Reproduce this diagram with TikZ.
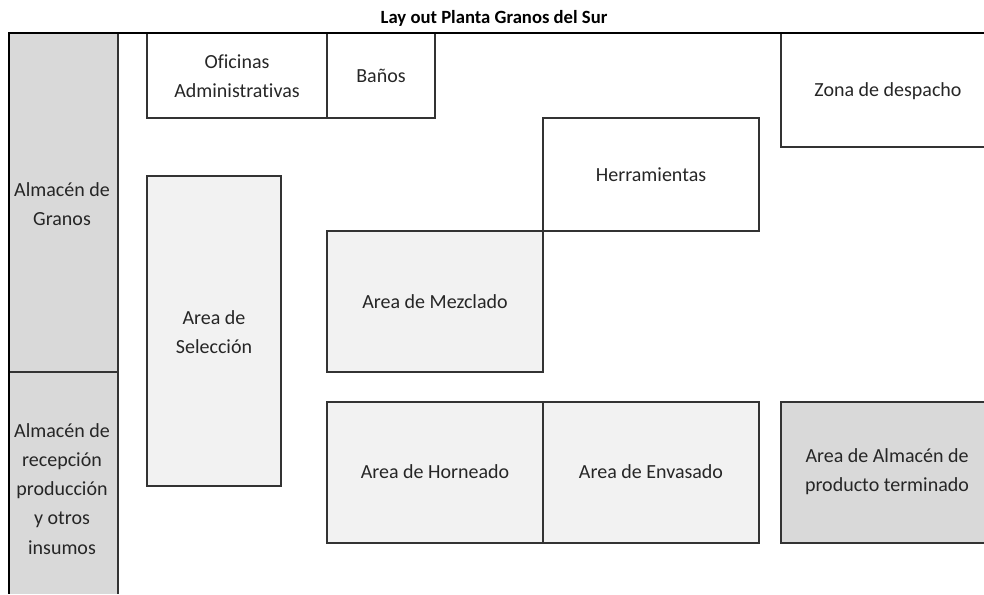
\documentclass[tikz,border=0pt]{standalone}
\usepackage{fontspec}
\setmainfont{Carlito}[Ligatures=NoCommon]
\usetikzlibrary{positioning}
\definecolor{grisal}{HTML}{D9D9D9}
\definecolor{grisar}{HTML}{F2F2F2}
\tikzset{
  zona/.style={draw=black!80, line width=0.8pt},
  muro/.style={draw=black, line width=1.6pt},
  rotulo/.style={align=center, text=black!85, font=\fontsize{15}{21.8}\selectfont}
}
\begin{document}
\begin{tikzpicture}[x=0.75pt, y=-0.75pt]
            \useasboundingbox (0,0) rectangle (984,594);

            \node[font=\bfseries\fontsize{14}{16}\selectfont] (titulo) at (494,18) {Lay out Planta Granos del Sur};

            % almacenes de la izquierda
            \fill[grisal] (9,33) rectangle (118,594);
            \draw[zona] (9,372) -- (118,372);
            \draw[zona] (118,33) -- (118,594);
            \node[rotulo] (granos) at (62,204) {Almac\'en de\\Granos};
            \node[rotulo] (recepcion) at (62,489) {Almac\'en de\\recepci\'on\\producci\'on\\y otros\\insumos};

            % oficinas
            \draw[zona] (147,33) rectangle (327,118);
            \node[rotulo] (oficinas) at (237,76) {Oficinas\\Administrativas};
            \draw[zona] (327,33) rectangle (435,118);
            \node[rotulo] (banos) at (381,76) {Ba\~nos};

            \draw[zona] (781,33) -- (781,147) -- (984,147);
            \node[rotulo] (despacho) at (888,91) {Zona de despacho};

            \draw[zona] (543,118) rectangle (759,231);
            \node[rotulo] (herramientas) at (651,175) {Herramientas};

            % areas de proceso
            \draw[zona, fill=grisar] (147,176) rectangle (281,486);
            \node[rotulo] (seleccion) at (214,332) {Area de\\Selecci\'on};

            \draw[zona, fill=grisar] (327,231) rectangle (543,372);
            \node[rotulo] (mezclado) at (435,302) {Area de Mezclado};

            \draw[zona, fill=grisar] (327,402) rectangle (543,543);
            \node[rotulo] (horneado) at (435,472) {Area de Horneado};
            \draw[zona, fill=grisar] (543,402) rectangle (759,543);
            \node[rotulo] (envasado) at (651,472) {Area de Envasado};

            \fill[grisal] (781,402) rectangle (984,543);
            \draw[zona] (984,402) -- (781,402) -- (781,543) -- (984,543);
            \node[rotulo] (terminado) at (887,472) {Area de Almac\'en de\\producto terminado};

            % muro exterior
            \draw[muro] (8,33) -- (984,33);
            \draw[muro] (9,33) -- (9,594);
        \end{tikzpicture}
\end{document}
